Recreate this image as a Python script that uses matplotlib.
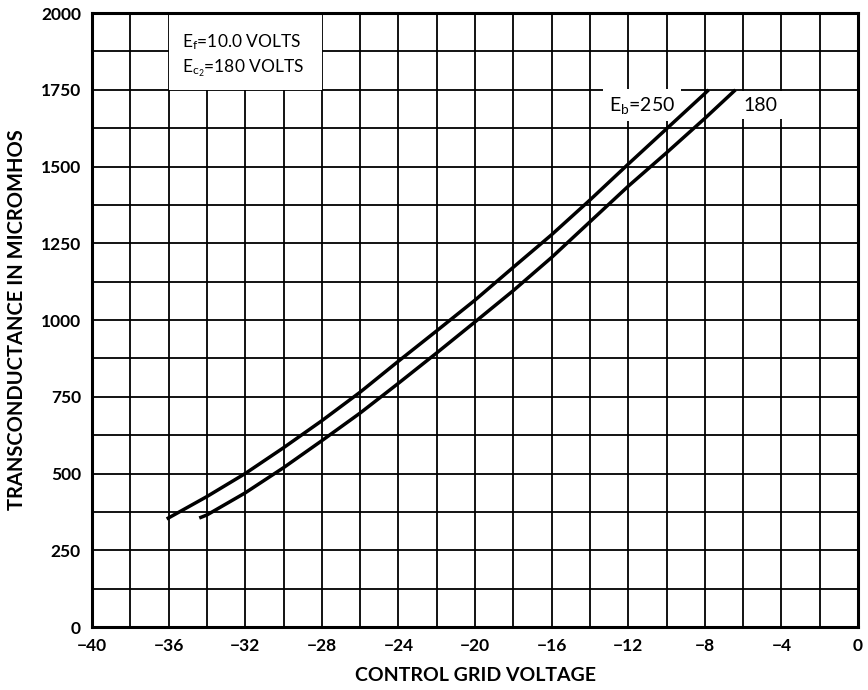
import matplotlib
matplotlib.use("Agg")
import matplotlib.pyplot as plt
from matplotlib.patches import Rectangle
import numpy as np

plt.rcParams['font.family'] = ['Lato', 'DejaVu Sans']
plt.rcParams['mathtext.fontset'] = 'custom'
plt.rcParams['mathtext.rm'] = 'Lato'
plt.rcParams['mathtext.it'] = 'Lato'

# Data
eb250_x = [-36.1, -34, -32, -30, -28, -26, -24, -22, -20, -18, -16, -14, -12, -10, -8, -7.8]
eb250_y = [352, 425, 500, 584, 672, 765, 866, 965, 1065, 1172, 1278, 1391, 1508, 1623, 1738, 1750]
eb180_x = [-34.4, -34, -32, -30, -28, -26, -24, -22, -20, -18, -16, -14, -12, -10, -8, -6.4]
eb180_y = [355, 365, 437, 519, 607, 697, 794, 893, 994, 1096, 1204, 1320, 1436, 1545, 1657, 1750]

x_ticks = [-40, -36, -32, -28, -24, -20, -16, -12, -8, -4, 0]
y_ticks = [0, 250, 500, 750, 1000, 1250, 1500, 1750, 2000]

fig = plt.figure(figsize=(8.68, 6.9), dpi=100)
ax = fig.add_axes([0.106, 0.0913, 0.8825, 0.8897])

ax.set_xlim(-40, 0)
ax.set_ylim(0, 2000)

# grid
for gx in np.arange(-40, 0.1, 2):
    ax.axvline(gx, color='black', lw=1.3, zorder=1)
for gy in np.arange(0, 2001, 125):
    ax.axhline(gy, color='black', lw=1.3, zorder=1)

# white box behind conditions text
ax.add_patch(Rectangle((-36, 1750), 8, 250, facecolor='white', edgecolor='none', zorder=1.5))

ax.plot(eb250_x, eb250_y, color='black', lw=2.5, zorder=3, solid_capstyle='butt')
ax.plot(eb180_x, eb180_y, color='black', lw=2.5, zorder=3, solid_capstyle='butt')

ax.text(-35.3, 1905, r"E$_\mathregular{f}$=10.0 VOLTS", fontsize=12.5, va='center', ha='left', zorder=4)
ax.text(-35.3, 1820, r"E$_{\mathregular{c_2}}$=180 VOLTS", fontsize=12.5, va='center', ha='left', zorder=4)

ax.text(-13.0, 1700, r"E$_\mathregular{b}$=250", fontsize=14, va='center', ha='left', zorder=2,
        bbox=dict(facecolor='white', edgecolor='none', pad=4))
ax.text(-6.0, 1700, "180", fontsize=14, va='center', ha='left', zorder=2,
        bbox=dict(facecolor='white', edgecolor='none', pad=4))

ax.set_xticks(x_ticks)
ax.set_xticklabels([("\u2212%d" % abs(v)) if v < 0 else str(v) for v in x_ticks])
ax.set_yticks(y_ticks)
ax.set_yticklabels([str(v) for v in y_ticks])
ax.tick_params(length=0, labelsize=12.5, pad=8)
for lab in ax.get_xticklabels() + ax.get_yticklabels():
    lab.set_fontweight('bold')

for sp in ax.spines.values():
    sp.set_linewidth(2.2)
    sp.set_zorder(5)

ax.set_xlabel("CONTROL GRID VOLTAGE", fontsize=14, fontweight='bold', labelpad=9)
ax.set_ylabel("TRANSCONDUCTANCE IN MICROMHOS", fontsize=14.5, fontweight='bold', labelpad=10)

fig.savefig("out.png", dpi=100, facecolor='white')
